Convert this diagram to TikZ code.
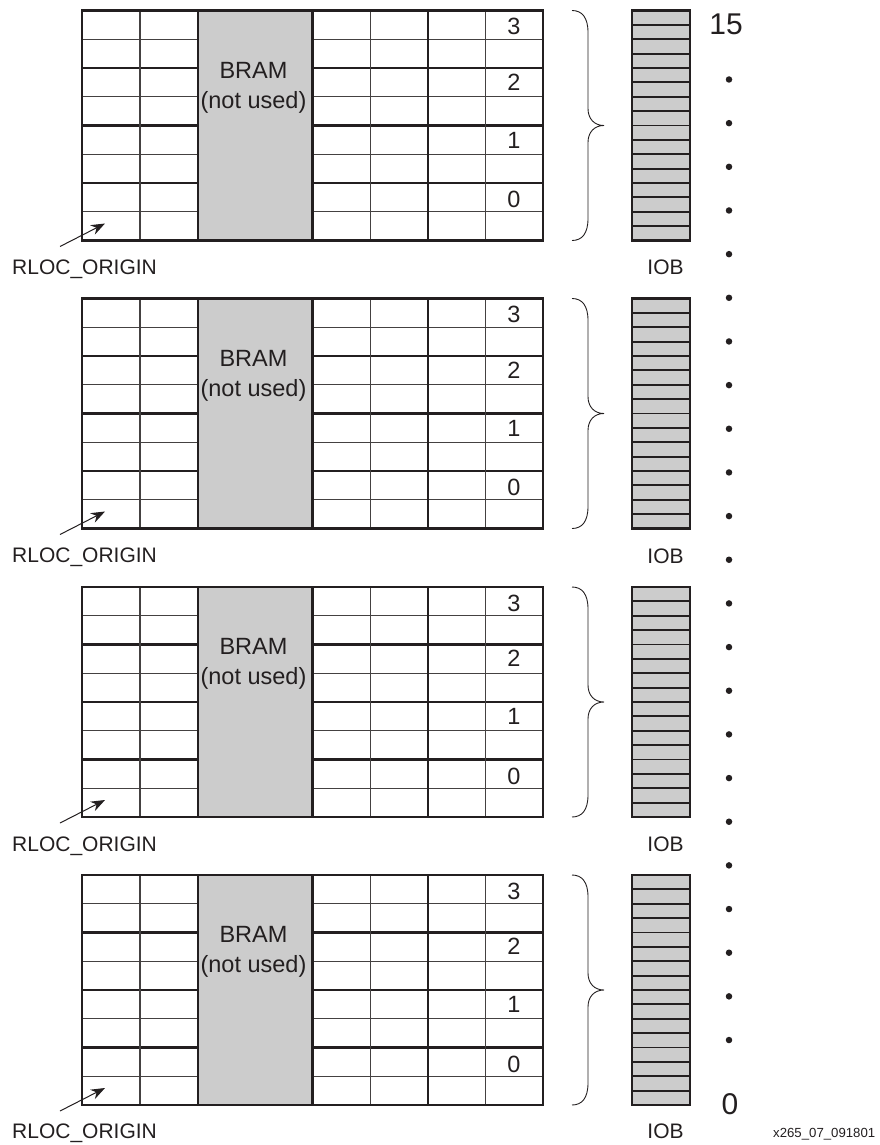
\documentclass[tikz,border=0pt]{standalone}
\usepackage{fontspec}
\setmainfont{Liberation Sans}
\usetikzlibrary{arrows.meta}
\definecolor{ink}{HTML}{231F20}
\definecolor{fillgray}{HTML}{CCCCCC}
\tikzset{
  thinline/.style={draw=ink!85,line width=1.2pt},
  thickline/.style={draw=ink,line width=2.6pt},
  cellframe/.style={draw=ink,line width=2.6pt},
  bramblock/.style={draw=ink,line width=2.6pt,fill=fillgray,minimum width=114.7pt,minimum height=230pt,inner sep=0pt,outer sep=0pt},
  lab/.style={font=\fontsize{23.5}{30}\selectfont,text=ink,inner sep=0pt},
  smalllab/.style={font=\fontsize{21}{24}\selectfont,text=ink,inner sep=0pt},
  bigdigit/.style={font=\fontsize{30}{32}\selectfont,text=ink,inner sep=0pt},
  dotmark/.style={circle,fill=ink,draw=none,minimum size=6.5pt,inner sep=0pt},
  ptr/.style={draw=ink,line width=1pt,-{Stealth[length=14pt,width=10.5pt]}},
  bracepath/.style={draw=ink,line width=0.9pt}
}
\begin{document}
\begin{tikzpicture}[x=1pt,y=-1pt]
\useasboundingbox (0,0) rectangle (879,1145);
\foreach \n/\top/\lab in {1/10.5/269,2/298.5/557.5,3/587/846,4/875/1133}{
  \begin{scope}[shift={(0,\top)}]
    % CLB grid
    \foreach \r in {1,3,5,7}{
      \draw[thinline] (82,{\r*28.75}) -- (198,{\r*28.75});
      \draw[thinline] (313,{\r*28.75}) -- (543,{\r*28.75});
    }
    \foreach \r in {2,4,6}{
      \draw[thickline] (82,{\r*28.75}) -- (198,{\r*28.75});
      \draw[thickline] (313,{\r*28.75}) -- (543,{\r*28.75});
    }
    \foreach \x in {140,370.5,485.7}{
      \draw[thinline] (\x,0) -- (\x,230);
    }
    \draw[thickline] (427.8,0) -- (427.8,230);
    \draw[cellframe] (82,0) rectangle (543,230);
    \node[bramblock] (bram\n) at (255.3,115) {};
    \node[lab,align=center] (bramt\n) at (253.5,77) {BRAM\\(not used)};
    \node[lab] (d3\n) at (514,16) {3};
    \node[lab] (d2\n) at (514,71.5) {2};
    \node[lab] (d1\n) at (514,129.5) {1};
    \node[lab] (d0\n) at (514,189) {0};
    % brace
    \coordinate (bt\n) at (572,0);
    \coordinate (bb\n) at (572,230);
    \coordinate (bm\n) at (604,115);
    \draw[bracepath] (bt\n) .. controls (582,0) and (588,7) .. (588,22) -- (588,98)
       .. controls (588,108) and (594,115) .. (bm\n)
       .. controls (594,115) and (588,122) .. (588,132) -- (588,208)
       .. controls (588,223) and (582,230) .. (bb\n);
    % IOB
    \draw[fill=fillgray,draw=none] (632,0) rectangle (690,230);
    \foreach \r in {1,2,...,15}{
      \draw[draw=ink,line width=1.8pt] (632,{\r*14.375}) -- (690,{\r*14.375});
    }
    \draw[cellframe] (632,0) rectangle (690,230);
    % origin pointer
    \coordinate (os\n) at (60,236);
    \coordinate (oe\n) at (105,213);
    \draw[ptr] (os\n) -- (oe\n);
  \end{scope}
  \node[smalllab,anchor=west] (rl\n) at (12,\lab) {RLOC\_ORIGIN};
  \node[smalllab] (iob\n) at (665.5,\lab-1.5) {IOB};
}
\foreach \i in {0,1,...,22}{
  \node[dotmark] (dot\i) at (729,{79.5+\i*43.66}) {};
}
\node[bigdigit] (top15) at (726,24) {15};
\node[bigdigit] (bot0) at (730,1104) {0};
\node[font=\fontsize{13.2}{15}\selectfont,text=ink,inner sep=0pt,anchor=west] (tag) at (773,1134) {x265\_07\_091801};
\end{tikzpicture}
\end{document}
